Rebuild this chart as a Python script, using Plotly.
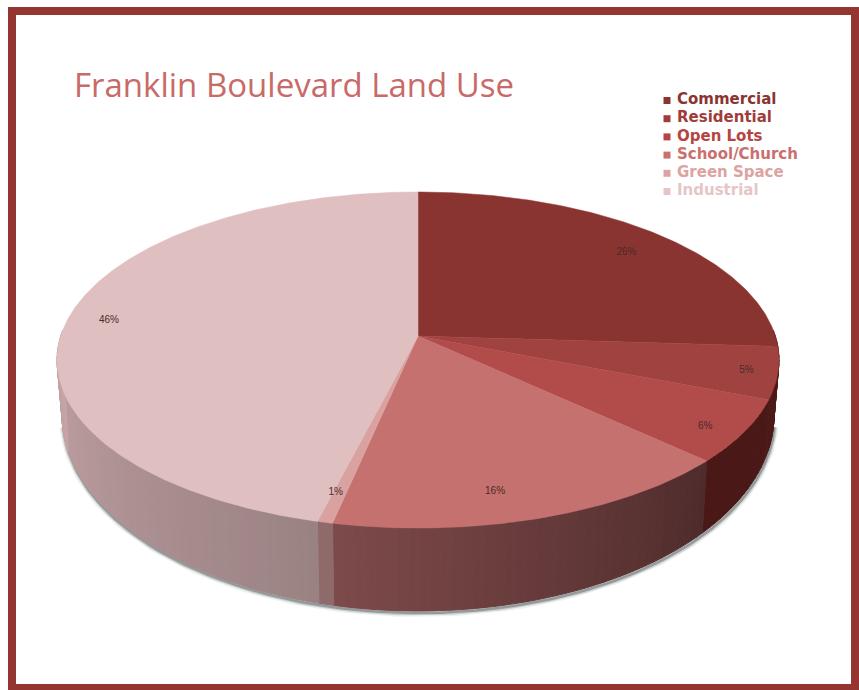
import math
import plotly.graph_objects as go

# Data
categories = ["Commercial", "Residential", "Open Lots", "School/Church", "Green Space", "Industrial"]
values = [26, 5, 6, 16.3, 0.6, 46.1]

# Styles
top_colors = ["#8a3431", "#a04240", "#b24c4a", "#c5716f", "#d9a2a1", "#e0bfc0"]
legend_marker_colors = ["#8a3431", "#a03c3a", "#b54543", "#c9706e", "#dca3a3", "#e6c5c6"]
wall_start = ["#4a1a18", "#4e1a18", "#4a1917", "#4f2b2b", "#8f6a6b", "#9a8283"]
wall_end = ["#4a1a18", "#4c1a18", "#4a1917", "#7d4a4a", "#8f6a6b", "#c7a5a7"]
label_nudge = [(4, 4.5), (24, 3), (13, 10), (-26, 5), (-5, 2), (-12, 1)]

# Pie geometry on the page (pixels)
APEX_X, APEX_Y = 418, 336
K, A, B = 1 / 7, 164.6, 357.3
BOT_CX, BOT_CY, BOT_RX, BOT_RY = 418, 415, 356, 196
WALL_FROM, WALL_TO = 88, 272


def top_point(theta_deg, r=1.0):
    t = math.radians(theta_deg)
    s, c = math.sin(t), -math.cos(t)
    w = 1 - K * r * c
    return APEX_X + B * r * s / w, APEX_Y + A * r * c / w


def bottom_point(theta_deg):
    x, _ = top_point(theta_deg)
    bx = BOT_CX + (x - APEX_X) * BOT_RX / 361.5
    u = max(0.0, 1 - ((bx - BOT_CX) / BOT_RX) ** 2)
    return bx, BOT_CY + BOT_RY * math.sqrt(u)


def hex2rgb(h):
    return tuple(int(h[i:i + 2], 16) for i in (1, 3, 5))


def mix(a, b, f):
    ca, cb = hex2rgb(a), hex2rgb(b)
    return "rgb(%d,%d,%d)" % tuple(round(ca[i] + (cb[i] - ca[i]) * f) for i in range(3))


def arange(a, b, step=1.0):
    n = max(1, int(abs(b - a) / step))
    return [a + (b - a) * i / n for i in range(n + 1)]


total = sum(values)
edges = [0.0]
for v in values:
    edges.append(edges[-1] + v / total * 360)

fig = go.Figure()

# soft shadow below the wall
for width, col in [(8, "rgba(140,145,145,0.15)"), (5, "rgba(125,130,130,0.3)"), (2.5, "rgba(110,118,118,0.6)")]:
    pts = [bottom_point(t) for t in arange(WALL_FROM, WALL_TO)]
    fig.add_trace(go.Scatter(x=[p[0] + 1 for p in pts], y=[p[1] + 2 for p in pts], mode="lines",
                             line=dict(color=col, width=width), hoverinfo="skip", showlegend=False))

# side wall, as shaded strips for each slice
for i, cat in enumerate(categories):
    t0, t1 = max(edges[i], WALL_FROM), min(edges[i + 1], WALL_TO)
    if t1 <= t0:
        continue
    n = max(1, min(60, int((t1 - t0) / 1.5)))
    for j in range(n):
        a = t0 + (t1 - t0) * j / n
        b = t0 + (t1 - t0) * (j + 1) / n
        col = mix(wall_start[i], wall_end[i], (j + 0.5) / n)
        upper = [top_point(t) for t in arange(a, b, 0.5)]
        lower = [bottom_point(t) for t in arange(b, a, 0.5)]
        ring = upper + lower + upper[:1]
        fig.add_trace(go.Scatter(x=[p[0] for p in ring], y=[p[1] for p in ring], mode="lines",
                                 fill="toself", fillcolor=col, line=dict(color=col, width=1),
                                 hoverinfo="skip", showlegend=False))

# top face
for i, cat in enumerate(categories):
    arc = [top_point(t) for t in arange(edges[i], edges[i + 1], 0.5)]
    ring = [(APEX_X, APEX_Y)] + arc + [(APEX_X, APEX_Y)]
    fig.add_trace(go.Scatter(x=[p[0] for p in ring], y=[p[1] for p in ring], mode="lines", name=cat,
                             fill="toself", fillcolor=top_colors[i],
                             line=dict(color=top_colors[i], width=0.5), showlegend=False))

# percentage labels
lx, ly, lt = [], [], []
for i, v in enumerate(values):
    x, y = top_point((edges[i] + edges[i + 1]) / 2, 0.85)
    lx.append(x + label_nudge[i][0])
    ly.append(y + label_nudge[i][1])
    lt.append(f"{v / total * 100:.0f}%")
fig.add_trace(go.Scatter(x=lx, y=ly, mode="text", text=lt, showlegend=False,
                         textfont=dict(family="Liberation Sans", size=10, color="#4a2a2a")))

# legend
LEG_X, LEG_TEXT_X, LEG_Y0, LEG_DY = 667, 677, 100.5, 18.2
leg_y = [LEG_Y0 + LEG_DY * i for i in range(len(categories))]
fig.add_trace(go.Scatter(
    x=[LEG_X] * len(categories), y=leg_y, mode="markers",
    marker=dict(symbol="square", size=7, color=legend_marker_colors),
    hoverinfo="skip", showlegend=False))
fig.add_trace(go.Scatter(
    x=[LEG_TEXT_X] * len(categories), y=leg_y, mode="text",
    text=[f"<b>{c}</b>" for c in categories], textposition="middle right",
    textfont=dict(family="DejaVu Sans", size=15, color=legend_marker_colors),
    hoverinfo="skip", showlegend=False))

fig.update_layout(
    width=859, height=690, margin=dict(l=0, r=0, t=0, b=0),
    paper_bgcolor="white", plot_bgcolor="white", showlegend=False,
    title=dict(text="Franklin Boulevard Land Use", x=74 / 859, xanchor="left",
               y=1 - 85 / 690, yanchor="middle",
               font=dict(family="Open Sans", size=33, color="#c86a68")),
    xaxis=dict(range=[0, 859], visible=False, fixedrange=True),
    yaxis=dict(range=[690, 0], visible=False, fixedrange=True),
    shapes=[dict(type="rect", xref="x", yref="y", x0=12, y0=11, x1=855, y1=688,
                 line=dict(color="#953532", width=8), layer="above")],
)

fig.write_html("out.html", config={"displayModeBar": False},
               post_script="document.body.style.margin='0';")
